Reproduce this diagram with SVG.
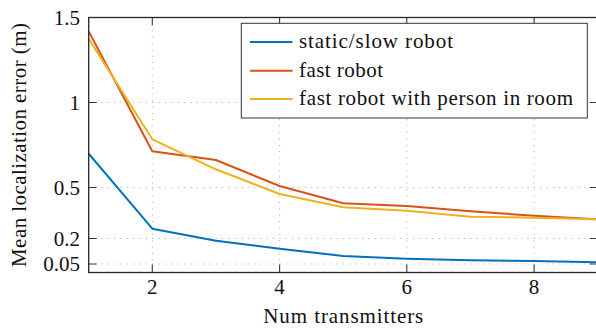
<svg xmlns="http://www.w3.org/2000/svg" width="596" height="331" viewBox="0 0 596 331" font-family="'Liberation Serif', 'Times New Roman', 'DejaVu Serif', serif">
<style>
text{font-size:21px;fill:#111}
.grid{stroke:#a8a8a8;stroke-width:1;stroke-dasharray:1 5.36;fill:none}
.tick{stroke:#3a3a3a;stroke-width:1.1;fill:none}
.frame{stroke:#262626;stroke-width:1.3;fill:none}
.s{fill:none;stroke-width:2;stroke-linejoin:round}
.yl{text-anchor:end}
.xl{text-anchor:middle}
</style>
<defs>
<clipPath id="plot"><rect x="88.7" y="17.5" width="509" height="255"/></clipPath>
</defs>
<rect width="596" height="331" fill="#fff"/>
<g id="grid">
<path class="grid" d="M152.3 17.5V272.5M279.6 17.5V272.5M406.8 17.5V272.5M534.1 17.5V272.5"/>
<path class="grid" d="M88.7 102.5H597.7M88.7 187.5H597.7M88.7 238.5H597.7M88.7 264H597.7"/>
</g>
<g id="ticks">
<path class="tick" d="M152.3 272.5v-8M279.6 272.5v-8M406.8 272.5v-8M534.1 272.5v-8M152.3 17.5v8M279.6 17.5v8M406.8 17.5v8M534.1 17.5v8"/>
<path class="tick" d="M88.7 17.5h8M88.7 102.5h8M88.7 187.5h8M88.7 238.5h8M88.7 264h8M597.7 17.5h-8M597.7 102.5h-8M597.7 187.5h-8M597.7 238.5h-8M597.7 264h-8"/>
</g>
<g id="series" clip-path="url(#plot)">
<polyline id="static" class="s" stroke="#0072BD" points="88.7,153.7 152.3,228.7 215.9,240.7 279.6,248.7 343.2,256 406.8,258.7 470.5,260.3 534.1,261 597.7,262.3"/>
<polyline id="fast" class="s" stroke="#D95319" points="88.7,31.5 152.3,151.3 215.9,160 279.6,186 343.2,203.3 406.8,206 470.5,211.3 534.1,215.7 597.7,219.3"/>
<polyline id="person" class="s" stroke="#EDB120" points="88.7,38.7 152.3,139.3 215.9,169.3 279.6,194 343.2,207.3 406.8,210.7 470.5,216.7 534.1,217.7 597.7,219.3"/>
</g>
<rect class="frame" x="88.7" y="17.5" width="509" height="255"/>
<g id="yticklabels">
<text class="yl" x="80" y="24.5">1.5</text>
<text class="yl" x="80" y="109.5">1</text>
<text class="yl" x="80" y="194.5">0.5</text>
<text class="yl" x="80" y="245.5">0.2</text>
<text class="yl" x="80" y="271">0.05</text>
</g>
<g id="xticklabels">
<text class="xl" x="152.3" y="293.5">2</text>
<text class="xl" x="279.6" y="293.5">4</text>
<text class="xl" x="406.8" y="293.5">6</text>
<text class="xl" x="534.1" y="293.5">8</text>
</g>
<text id="xlabel" class="xl" x="343.3" y="323" textLength="160" lengthAdjust="spacing">Num transmitters</text>
<text id="ylabel" class="xl" transform="translate(25.5,145) rotate(-90)" textLength="244" lengthAdjust="spacing">Mean localization error (m)</text>
<g id="legend">
<rect x="241.3" y="23.3" width="346" height="94.7" fill="#fff" stroke="#333" stroke-width="1"/>
<line x1="250" y1="42" x2="292.5" y2="42" stroke="#0072BD" stroke-width="2"/>
<text x="299" y="48.3" textLength="154" lengthAdjust="spacing">static/slow robot</text>
<line x1="250" y1="70.7" x2="292.5" y2="70.7" stroke="#D95319" stroke-width="2"/>
<text x="299" y="76.7" textLength="84" lengthAdjust="spacing">fast robot</text>
<line x1="250" y1="99" x2="292.5" y2="99" stroke="#EDB120" stroke-width="2"/>
<text x="299" y="105" textLength="274" lengthAdjust="spacing">fast robot with person in room</text>
</g>
</svg>
